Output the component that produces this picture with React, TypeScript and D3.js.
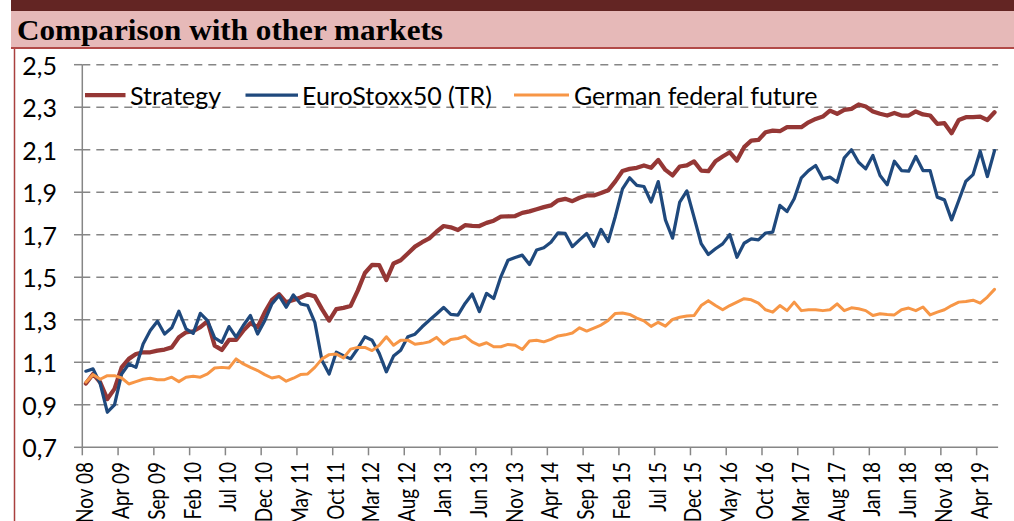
import React from 'react';
import * as d3 from 'd3';

// Monthly observations, Nov 2008 .. Jun 2019 (128 months)
const startMonth = new Date(2008, 10, 1);

const strategy = [
  1.0, 1.045, 1.006, 0.927, 0.975, 1.076, 1.116, 1.139, 1.147, 1.147,
  1.155, 1.16, 1.17, 1.218, 1.241, 1.246, 1.265, 1.293, 1.178, 1.158,
  1.205, 1.205, 1.249, 1.284, 1.265, 1.335, 1.393, 1.42, 1.382, 1.393,
  1.405, 1.42, 1.41, 1.35, 1.296, 1.35, 1.356, 1.365, 1.437, 1.52,
  1.558, 1.557, 1.487, 1.565, 1.58, 1.612, 1.644, 1.665, 1.683, 1.714,
  1.741, 1.735, 1.722, 1.745, 1.742, 1.741, 1.756, 1.766, 1.785, 1.787,
  1.788, 1.803, 1.81, 1.82, 1.83, 1.838, 1.862, 1.869, 1.858, 1.874,
  1.885, 1.885, 1.896, 1.909, 1.951, 2.0, 2.01, 2.015, 2.026, 2.015,
  2.052, 2.005, 1.979, 2.021, 2.026, 2.045, 2.002, 1.999, 2.046, 2.068,
  2.088, 2.049, 2.112, 2.143, 2.146, 2.182, 2.19, 2.187, 2.206, 2.206,
  2.206, 2.229, 2.245, 2.256, 2.284, 2.269, 2.287, 2.292, 2.313, 2.303,
  2.28, 2.269, 2.261, 2.273, 2.261, 2.261, 2.28, 2.266, 2.261, 2.222,
  2.225, 2.178, 2.24, 2.253, 2.253, 2.256, 2.24, 2.276,
];

const euroStoxx = [
  1.058, 1.069, 1.0, 0.865, 0.9, 1.045, 1.092, 1.076, 1.186, 1.249,
  1.293, 1.233, 1.262, 1.34, 1.257, 1.236, 1.33, 1.296, 1.215, 1.194,
  1.268, 1.218, 1.273, 1.32, 1.233, 1.296, 1.375, 1.414, 1.359, 1.417,
  1.375, 1.367, 1.288, 1.108, 1.045, 1.147, 1.131, 1.116, 1.165, 1.22,
  1.204, 1.142, 1.055, 1.129, 1.157, 1.22, 1.232, 1.267, 1.298, 1.327,
  1.358, 1.325, 1.322, 1.377, 1.421, 1.338, 1.424, 1.4, 1.502, 1.58,
  1.593, 1.604, 1.56, 1.628, 1.639, 1.665, 1.709, 1.706, 1.644, 1.676,
  1.706, 1.646, 1.725, 1.668, 1.786, 1.916, 1.968, 1.932, 1.927, 1.854,
  1.95, 1.77, 1.684, 1.854, 1.906, 1.783, 1.658, 1.607, 1.634, 1.657,
  1.701, 1.594, 1.66, 1.681, 1.676, 1.708, 1.712, 1.838, 1.809, 1.869,
  1.968, 2.002, 2.026, 1.963, 1.971, 1.947, 2.062, 2.1, 2.041, 2.01,
  2.073, 1.979, 1.935, 2.046, 2.002, 1.999, 2.068, 2.002, 2.002, 1.877,
  1.864, 1.77, 1.861, 1.952, 1.983, 2.093, 1.974, 2.096,
];

const germanFuture = [
  1.006, 1.042, 1.02, 1.037, 1.037, 1.026, 0.998, 1.009, 1.02, 1.025,
  1.018, 1.018, 1.03, 1.009, 1.03, 1.034, 1.03, 1.045, 1.073, 1.076,
  1.073, 1.116, 1.092, 1.076, 1.061, 1.042, 1.026, 1.033, 1.011, 1.025,
  1.042, 1.045, 1.076, 1.116, 1.136, 1.139, 1.12, 1.162, 1.17, 1.17,
  1.155, 1.18, 1.22, 1.18, 1.204, 1.204, 1.185, 1.189, 1.196, 1.217,
  1.185, 1.207, 1.212, 1.223, 1.196, 1.18, 1.192, 1.173, 1.173, 1.184,
  1.18, 1.16, 1.2, 1.204, 1.196, 1.208, 1.224, 1.229, 1.238, 1.262,
  1.247, 1.261, 1.275, 1.297, 1.33, 1.332, 1.325, 1.308, 1.295, 1.269,
  1.288, 1.27, 1.302, 1.312, 1.318, 1.32, 1.367, 1.39, 1.367, 1.347,
  1.367, 1.383, 1.399, 1.394, 1.378, 1.347, 1.336, 1.367, 1.343, 1.383,
  1.343, 1.347, 1.347, 1.343, 1.347, 1.375, 1.343, 1.356, 1.352, 1.343,
  1.32, 1.328, 1.325, 1.323, 1.347, 1.355, 1.343, 1.36, 1.323, 1.336,
  1.347, 1.367, 1.383, 1.386, 1.392, 1.378, 1.407, 1.443,
];

const xTickLabels = [
  'Nov 08', 'Apr 09', 'Sep 09', 'Feb 10', 'Jul 10', 'Dec 10', 'May 11',
  'Oct 11', 'Mar 12', 'Aug 12', 'Jan 13', 'Jun 13', 'Nov 13', 'Apr 14',
  'Sep 14', 'Feb 15', 'Jul 15', 'Dec 15', 'May 16', 'Oct 16', 'Mar 17',
  'Aug 17', 'Jan 18', 'Jun 18', 'Nov 18', 'Apr 19',
];
const labelEvery = 5;

const yTicks = [0.7, 0.9, 1.1, 1.3, 1.5, 1.7, 1.9, 2.1, 2.3, 2.5];

const seriesNames = ['Strategy', 'EuroStoxx50 (TR)', 'German federal future'];
const seriesColors = ['#953735', '#1f497d', '#f79646'];
const seriesWidths = [4.25, 3.25, 3];

const title = 'Comparison with other markets';

const FONT = "Lato, 'Open Sans', sans-serif";

export default function App() {
  const W = 1014;
  const H = 521;
  const categories = d3.timeMonth.range(startMonth, d3.timeMonth.offset(startMonth, strategy.length));
  const x = d3.scaleBand<Date>().domain(categories).range([82.3, 998.1]).padding(0);
  const bw = x.bandwidth();
  const y = d3.scaleLinear().domain([0.7, 2.5]).range([447.3, 64.7]);
  const locale = d3.formatLocale({ decimal: ',', thousands: '.', grouping: [3], currency: ['', '€'] });
  const fmt = locale.format('.1f');

  const allSeries = [strategy, euroStoxx, germanFuture];
  const line = d3
    .line<number>()
    .x((_, i) => (x(categories[i]) as number) + bw / 2)
    .y((d) => y(d));

  const plotLeft = 82.3;
  const plotRight = 998.1;
  const axisY = y(0.7);

  const legendItems = [
    { x1: 85, x2: 125.5, tx: 130 },
    { x1: 245.5, x2: 298, tx: 302 },
    { x1: 514, x2: 569, tx: 574 },
  ];
  const legendY = 95;

  return (
    <svg
      width={W}
      height={H}
      style={{ position: 'absolute', left: 0, top: 0, background: '#fff' }}
      fontFamily={FONT}
    >
      <rect x={0} y={0} width={W} height={H} fill="#ffffff" />
      {/* header bands */}
      <rect x={11} y={0} width={W - 11} height={11} fill="#632523" />
      <rect x={11} y={11} width={W - 11} height={37} fill="#e6b9b8" />
      <rect x={11} y={47} width={W - 11} height={2} fill="#b24a48" />
      <line x1={14.5} x2={14.5} y1={49} y2={H} stroke="#a9403e" strokeWidth={1.5} />
      <text
        x={17}
        y={40}
        fontFamily="'Liberation Serif', 'Times New Roman', serif"
        fontWeight="bold"
        fontSize={29}
        fill="#000"
        textLength={426}
        lengthAdjust="spacingAndGlyphs"
      >
        {title}
      </text>

      {/* gridlines */}
      {yTicks.slice(1).map((t) => (
        <line
          key={'g' + t}
          x1={plotLeft}
          x2={plotRight}
          y1={y(t)}
          y2={y(t)}
          stroke="#868686"
          strokeWidth={1.5}
          strokeDasharray="8 6"
        />
      ))}
      {/* y axis */}
      <line x1={plotLeft} x2={plotLeft} y1={y(2.5)} y2={axisY} stroke="#868686" strokeWidth={1.5} />
      {yTicks.map((t) => (
        <g key={'yt' + t}>
          <line x1={74} x2={plotLeft} y1={y(t)} y2={y(t)} stroke="#868686" strokeWidth={1.5} />
          <text x={57} y={y(t)} textAnchor="end" dominantBaseline="central" fontSize={25} fill="#000">
            {fmt(t)}
          </text>
        </g>
      ))}
      {/* x axis */}
      <line x1={plotLeft} x2={plotRight} y1={axisY} y2={axisY} stroke="#868686" strokeWidth={1.5} />
      {xTickLabels.map((lab, k) => {
        const c = categories[k * labelEvery];
        const tx = x(c) as number;
        const cx = tx + bw / 2;
        return (
          <g key={'xt' + k}>
            <line x1={tx} x2={tx} y1={axisY} y2={axisY + 8} stroke="#868686" strokeWidth={1.5} />
            <text
              transform={`translate(${cx + 7.4},${462}) scale(1.25,1) rotate(-90)`}
              textAnchor="end"
              fontSize={19}
              fill="#000"
            >
              {lab}
            </text>
          </g>
        );
      })}

      {/* series */}
      {allSeries.map((s, k) => (
        <path
          key={'s' + k}
          d={line(s) as string}
          fill="none"
          stroke={seriesColors[k]}
          strokeWidth={seriesWidths[k]}
          strokeLinejoin="round"
          strokeLinecap="round"
        />
      ))}

      {/* legend */}
      {legendItems.map((it, k) => (
        <g key={'lg' + k}>
          <line
            x1={it.x1}
            x2={it.x2}
            y1={legendY}
            y2={legendY}
            stroke={seriesColors[k]}
            strokeWidth={seriesWidths[k]}
          />
          <text x={it.tx} y={legendY} dominantBaseline="central" fontSize={25} fill="#000">
            {seriesNames[k]}
          </text>
        </g>
      ))}
    </svg>
  );
}
